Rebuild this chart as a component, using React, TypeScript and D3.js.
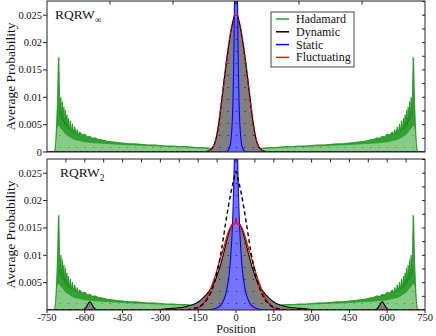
import React from "react";
import * as d3 from "d3";

// ---------- tick labels / legend ----------
const positionTicks = [-750, -600, -450, -300, -150, 0, 150, 300, 450, 600, 750];
const probTicks = [0, 0.005, 0.01, 0.015, 0.02, 0.025];
const probTickLabels = ["0", "0.005", "0.01", "0.015", "0.02", "0.025"];
const legendNames = ["Hadamard", "Dynamic", "Static", "Fluctuating"];
const legendColors = ["#2ca02c", "#000000", "#0000ff", "#ff0000"];

// ---------- Hadamard walk (left half, distribution is mirror-symmetric) ----------
const hadX = [-750, -720, -716, -712, -708, -705, -703, -701, -698, -695, -692, -689, -686, -683, -680, -677, -674, -671, -668, -665, -661, -657, -653, -649, -645, -640, -635, -630, -625, -620, -610, -600, -590, -580, -570, -560, -545, -530, -515, -500, -480, -460, -440, -420, -400, -375, -350, -325, -300, -275, -250, -225, -200, -175, -150, -125, -100, -75, -50, -25, 0];
const hadHi = [0, 0, 0.0015, 0.005, 0.01, 0.0165, 0.0173, 0.012, 0.0065, 0.01, 0.0058, 0.0092, 0.0055, 0.0082, 0.005, 0.0076, 0.0046, 0.0068, 0.0043, 0.0062, 0.004, 0.0057, 0.0037, 0.0051, 0.0035, 0.0046, 0.0033, 0.0041, 0.0031, 0.0037, 0.0031, 0.0033, 0.0028, 0.0029, 0.0025, 0.0026, 0.0023, 0.0022, 0.002, 0.0019, 0.0018, 0.0017, 0.0016, 0.0015, 0.0015, 0.0014, 0.0013, 0.0013, 0.0012, 0.0011, 0.0011, 0.001, 0.001, 0.0009, 0.0008, 0.0008, 0.0007, 0.0007, 0.0006, 0.0006, 0.0006];
const hadLoX = [-750, -720, -716, -712, -708, -705, -701, -698, -690, -680, -670, -660, -650, -640, -620, -600, -580, -560, -530, -500, -450, -400, -350, -300, -250, -200, -150, -100, -50, 0];
const hadLo = [0, 0, 0.0008, 0.003, 0.0045, 0.0048, 0.0047, 0.0044, 0.004, 0.0034, 0.003, 0.0027, 0.0024, 0.0022, 0.002, 0.0018, 0.0017, 0.0016, 0.0015, 0.0014, 0.0013, 0.0012, 0.0011, 0.001, 0.0009, 0.0008, 0.0007, 0.0006, 0.0005, 0.0005];

// ---------- RQRW_inf (right half, mirror-symmetric) ----------
const dynInfX = [0, 10, 20, 30, 40, 50, 60, 70, 80, 90, 100, 115, 130, 750];
const dynInf = [0.0255, 0.0243, 0.0222, 0.0192, 0.0158, 0.012, 0.0082, 0.0047, 0.0023, 0.001, 0.0004, 0.0001, 0, 0];
const staticInfX = [0, 2, 4, 6, 8, 10, 12, 14, 17, 20, 25, 30, 40, 750];
const staticInf = [0.09, 0.06, 0.04, 0.028, 0.0195, 0.0135, 0.0093, 0.0064, 0.0038, 0.0022, 0.0009, 0.0004, 0, 0];

// ---------- RQRW_2 (right half, mirror-symmetric) ----------
const dyn2X = [0, 10, 20, 30, 40, 50, 60, 70, 80, 100, 120, 140, 160, 200, 250, 300, 350, 550, 565, 580, 595, 610, 750];
const dyn2 = [0.0163, 0.016, 0.0152, 0.0138, 0.0121, 0.0102, 0.0085, 0.007, 0.0057, 0.0039, 0.0027, 0.0018, 0.0012, 0.0006, 0.0003, 0.0001, 0, 0, 0.0005, 0.0015, 0.0005, 0, 0];
const dynRefX = [0, 10, 20, 30, 40, 50, 60, 70, 80, 90, 100, 115, 130, 150, 175, 200, 750];
const dynRef = [0.0253, 0.0236, 0.0215, 0.019, 0.0162, 0.0132, 0.0104, 0.008, 0.006, 0.0044, 0.0032, 0.0019, 0.0011, 0.0005, 0.0002, 0, 0];
const static2X = [0, 3, 6, 10, 15, 20, 25, 30, 40, 50, 60, 80, 100, 120, 750];
const static2 = [0.06, 0.04, 0.029, 0.021, 0.0145, 0.0105, 0.0075, 0.0055, 0.003, 0.0017, 0.0009, 0.0003, 0.0001, 0, 0];
const fluc2X = [0, 3, 6, 10, 15, 20, 30, 40, 50, 60, 70, 80, 90, 100, 110, 120, 130, 140, 160, 180, 750];
const fluc2 = [0.0169, 0.016, 0.0157, 0.0157, 0.0156, 0.0153, 0.0143, 0.0128, 0.0112, 0.0097, 0.0082, 0.0066, 0.0052, 0.0039, 0.0028, 0.0019, 0.0012, 0.0007, 0.0002, 0, 0];

type P = [number, number];
const fromRight = (xs: number[], ys: number[]): P[] => {
  const pts: P[] = xs.map((v, i) => [v, ys[i]]);
  const left: P[] = pts.filter((p) => p[0] > 0).map((p) => [-p[0], p[1]] as P).reverse();
  return [...left, ...pts];
};
const fromLeft = (xs: number[], ys: number[]): P[] => {
  const pts: P[] = xs.map((v, i) => [v, ys[i]]);
  const right: P[] = pts.filter((p) => p[0] < 0).map((p) => [-p[0], p[1]] as P).reverse();
  return [...pts, ...right];
};

const FONT = "'Liberation Serif', 'Times New Roman', serif";
const X0 = 47, X1 = 425;

function Panel({ top, bottom, kind }: { top: number; bottom: number; kind: "inf" | "two" }) {
  const x = d3.scaleLinear().domain([-750, 750]).range([X0, X1]);
  const y = d3.scaleLinear().domain([0, 0.0276]).range([bottom, top]);
  const areaL = d3.area<P>().x((d) => x(d[0])).y0(y(0)).y1((d) => y(d[1])).curve(d3.curveLinear);
  const areaS = d3.area<P>().x((d) => x(d[0])).y0(y(0)).y1((d) => y(d[1])).curve(d3.curveMonotoneX);
  const lineL = d3.line<P>().x((d) => x(d[0])).y((d) => y(d[1])).curve(d3.curveLinear);
  const lineS = d3.line<P>().x((d) => x(d[0])).y((d) => y(d[1])).curve(d3.curveMonotoneX);

  const hHi = fromLeft(hadX, hadHi);
  const hLo = fromLeft(hadLoX, hadLo);
  const clipId = `clip-${kind}`;

  let body: React.ReactNode;
  if (kind === "inf") {
    const dyn = fromRight(dynInfX, dynInf);
    const st = fromRight(staticInfX, staticInf);
    body = (
      <g>
        <path d={areaS(dyn)!} fill="#808080" />
        <path d={areaS(dyn)!} fill="url(#dots)" />
        <path d={lineS(dyn)!} fill="none" stroke="#000" strokeWidth={1.3} />
        <path d={areaS(st)!} fill="#6a6aff" />
        <path d={areaS(st)!} fill="url(#dots)" />
        <path d={lineS(st)!} fill="none" stroke="#0000ff" strokeWidth={1.1} />
        <path d={lineS(dyn)!} fill="none" stroke="#ff0000" strokeWidth={1.3} strokeDasharray="3,3" />
      </g>
    );
  } else {
    const dyn = fromRight(dyn2X, dyn2);
    const ref = fromRight(dynRefX, dynRef);
    const st = fromRight(static2X, static2);
    const fl = fromRight(fluc2X, fluc2);
    body = (
      <g>
        <path d={areaS(dyn)!} fill="#808080" />
        <path d={areaS(dyn)!} fill="url(#dots)" />
        <path d={lineS(dyn)!} fill="none" stroke="#000" strokeWidth={1.1} />
        <path d={areaS(st)!} fill="#7474ff" />
        <path d={areaS(st)!} fill="url(#dots)" />
        <path d={lineS(st)!} fill="none" stroke="#0000ff" strokeWidth={1.1} />
        <path d={lineS(fl)!} fill="none" stroke="#ff0000" strokeWidth={1.3} />
        <path d={lineS(ref)!} fill="none" stroke="#000" strokeWidth={1.4} strokeDasharray="4,3" />
      </g>
    );
  }

  const minorY = d3.range(1, 12).map((i) => i * 0.0025);
  const labeled = kind === "inf" ? probTicks.map((v, i) => [v, probTickLabels[i]] as [number, string]) : probTicks.slice(1).map((v, i) => [v, probTickLabels[i + 1]] as [number, string]);
  const topTicks = kind === "inf" ? [-500, -250, 0, 250, 500] : d3.range(-675, 676, 75);

  return (
    <g>
      <defs>
        <clipPath id={clipId}>
          <rect x={X0} y={top} width={X1 - X0} height={bottom - top} />
        </clipPath>
      </defs>
      <g clipPath={`url(#${clipId})`}>
        <path d={areaL(hHi)!} fill="#1e961e" opacity={0.9} />
        <path d={areaL(hLo)!} fill="#86cc86" />
        <path d={areaL(hLo)!} fill="url(#dots)" opacity={0.5} />
        <path d={lineL(hHi)!} fill="none" stroke="#138f13" strokeWidth={0.8} />
        {body}
      </g>
      <rect x={X0} y={top} width={X1 - X0} height={bottom - top} fill="none" stroke="#222" strokeWidth={1} />
      {labeled.map(([v, s]) => (
        <g key={`l${v}`}>
          <line x1={X0 - 4} x2={X0} y1={y(v)} y2={y(v)} stroke="#222" />
          <text x={X0 - 5} y={y(v) + 3.5} textAnchor="end" fontSize={10.5} fontFamily={FONT} fill="#111">{s}</text>
        </g>
      ))}
      {minorY.map((v) => (
        <line key={`r${v}`} x1={X1 - 3} x2={X1} y1={y(v)} y2={y(v)} stroke="#222" />
      ))}
      {topTicks.map((v) => (
        <line key={`t${v}`} x1={x(v)} x2={x(v)} y1={top} y2={top + 3.5} stroke="#222" />
      ))}
      {kind === "two" &&
        positionTicks.map((v) => (
          <g key={`b${v}`}>
            <line x1={x(v)} x2={x(v)} y1={bottom} y2={bottom + 3} stroke="#222" />
            <text x={x(v)} y={bottom + 10.5} textAnchor="middle" fontSize={10.5} fontFamily={FONT} fill="#111">{`${v}`}</text>
          </g>
        ))}
      <text transform={`translate(15,${(top + bottom) / 2}) rotate(-90)`} textAnchor="middle" fontSize={13.5} fontFamily={FONT} fill="#111">Average Probability</text>
      <text x={kind === "inf" ? 55 : 60} y={top + 18} fontSize={13.5} fontFamily={FONT} fill="#111">
        RQRW<tspan fontSize={9.5} dy={4}>{kind === "inf" ? "∞" : "2"}</tspan>
      </text>
    </g>
  );
}

export default function App() {
  return (
    <svg width={436} height={336} style={{ position: "absolute", left: 0, top: 0, background: "#fff" }}>
      <defs>
        <pattern id="dots" patternUnits="userSpaceOnUse" x={0.8} y={3} width={8.4} height={12}>
          <rect x={0} y={0} width={1} height={1} fill="#000" opacity={0.8} />
        </pattern>
      </defs>
      <rect x={0} y={0} width={436} height={336} fill="#fff" />
      <Panel top={1} bottom={152} kind="inf" />
      <Panel top={159} bottom={310} kind="two" />
      <text x={236} y={333.4} textAnchor="middle" fontSize={12} fontFamily={FONT} fill="#111">Position</text>
      <g>
        <rect x={271} y={12} width={83} height={55} fill="#fff" stroke="#444" strokeWidth={1} />
        {legendNames.map((n, i) => (
          <g key={n}>
            <line x1={276} x2={289} y1={19 + i * 12.8} y2={19 + i * 12.8} stroke={legendColors[i]} strokeWidth={1.5} />
            <text x={296} y={19 + i * 12.8 + 4} fontSize={12} fontFamily={FONT} fill="#111">{n}</text>
          </g>
        ))}
      </g>
    </svg>
  );
}
